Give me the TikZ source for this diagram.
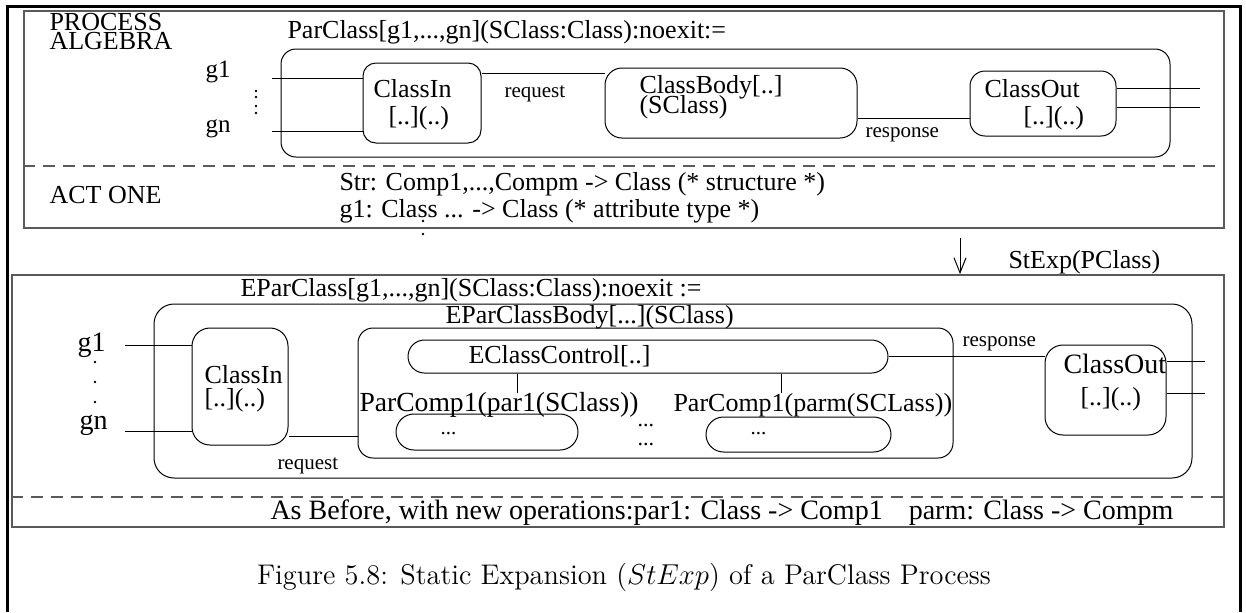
\documentclass[tikz,border=0pt]{standalone}
\usepackage{fontspec}
\usetikzlibrary{arrows.meta, positioning, calc}
\newfontfamily\figfont{Liberation Serif}
\definecolor{framegrey}{HTML}{5A5A5A}

\tikzset{
  lbl/.style={anchor=base west, inner sep=0pt, font=\figfont\fontsize{13}{15}\selectfont},
  sml/.style={lbl, font=\figfont\fontsize{10.5}{12}\selectfont},
  big/.style={lbl, font=\figfont\fontsize{14}{16}\selectfont},
  rbox/.style={draw, inner sep=0pt, line width=0.5pt},
  panel/.style={draw=framegrey, line width=0.9pt, inner sep=0pt},
  cut/.style={framegrey, line width=0.7pt, dash pattern=on 6pt off 4pt},
}

\begin{document}
\begin{tikzpicture}[x=0.5pt, y=-0.5pt, line width=0.5pt]
  \useasboundingbox (0,0) rectangle (1246,612);
  \draw[line width=1.5pt] (7,612) -- (7,6) -- (1240,6) -- (1240,612);

  % upper panel
  \node[panel, minimum width=600pt, minimum height=108.5pt] (upper) at (624,119.5) {};
  \coordinate (cut1) at (0,166);
  \draw[cut] (upper.west |- cut1) -- (upper.east |- cut1);
  \node[lbl] (pa1) at (49,30) {PROCESS};
  \node[lbl] (pa2) at (49,49) {ALGEBRA};
  \node[lbl] (pchead) at (287,38) {ParClass[g1,...,gn](SClass:Class):noexit:=};
  \draw[rounded corners=7.5pt] (281,49) rectangle (1170,157);

  \node[rbox, rounded corners=6.5pt, minimum width=59pt, minimum height=40pt] (cin) at (422,103) {};
  \node[lbl] (cinA) at (373,97) {ClassIn};
  \node[lbl] (cinB) at (388,124) {[..](..)};
  \node[rbox, rounded corners=8.5pt, minimum width=126pt, minimum height=35pt] (cbody) at (731,103) {};
  \node[lbl] (cbodyA) at (639,93) {ClassBody[..]};
  \node[lbl] (cbodyB) at (639,113) {(SClass)};
  \node[rbox, rounded corners=7.5pt, minimum width=73pt, minimum height=32.5pt] (cout) at (1043,103.5) {};
  \node[lbl] (coutA) at (984,97) {ClassOut};
  \node[lbl] (coutB) at (1023,124) {[..](..)};

  \node[lbl, font=\figfont\fontsize{12.5}{14}\selectfont] (ga) at (205,77) {g1};
  \node[lbl, font=\figfont\fontsize{12.5}{14}\selectfont] (gb) at (205,132) {gn};
  \foreach \yy in {91,97,106,113}
    \fill (256,\yy) circle[radius=0.7pt];
  \foreach \yy/\nm in {78/ia,131/ib}{%
    \coordinate (\nm) at (272,\yy);
    \draw (\nm) -- (\nm -| cin.west);}

  \draw ([yshift=15pt]cin.east) coordinate (rq) -- (rq -| cbody.west);
  \node[sml] (rqlab) at (504,97) {request};
  \draw ([yshift=-7.5pt]cbody.east) coordinate (rs) -- (rs -| cout.west);
  \node[sml] (rslab) at (865,137) {response};
  \foreach \yy/\nm in {88/oa,107/ob}{%
    \coordinate (\nm) at (1200,\yy);
    \draw (\nm -| cout.east) -- (\nm);}

  \node[lbl] (act) at (49,203) {ACT ONE};
  \node[lbl] (sig1) at (339,190) {Str: Comp1,...,Compm -> Class (* structure *)};
  \node[lbl] (sig2) at (339,217) {g1: Class ... -> Class (* attribute type *)};
  \foreach \yy in {221,234}
    \fill (423,\yy) circle[radius=0.7pt];

  % lower panel
  \node[panel, minimum width=606pt, minimum height=126pt] (lower) at (618,401) {};
  \coordinate (stx) at (960,238);
  \draw[-{Straight Barb[length=7.5pt,width=6pt]}] (stx) -- (stx |- lower.north);
  \node[lbl] (stexp) at (1008,268) {StExp(PClass)};
  \coordinate (cut2) at (0,497);
  \draw[cut] (lower.west |- cut2) -- (lower.east |- cut2);

  \node[lbl] (ephead) at (240,296) {EParClass[g1,...,gn](SClass:Class):noexit :=};
  \draw[rounded corners=10pt] (154,304) rectangle (1192,478);
  \node[lbl] (ebhead) at (445,323) {EParClassBody[...](SClass)};
  \node[rbox, rounded corners=7.5pt, minimum width=297.5pt, minimum height=65pt] (ebody) at (655.5,393) {};
  \node[rbox, rounded corners=8.25pt, minimum width=240pt, minimum height=16.5pt] (ectrl) at (648,356.5) {};
  \node[lbl] (ectrlA) at (468,363) {EClassControl[..]};
  \foreach \xx/\nm in {517/tka,781/tkb}{%
    \coordinate (\nm) at (\xx,393);
    \draw (\nm |- ectrl.south) -- (\nm);}
  \node[lbl, font=\figfont\fontsize{13.8}{15}\selectfont] (pc1) at (359,411) {ParComp1(par1(SClass))};
  \node[lbl] (pcm) at (673,411) {ParComp1(parm(SCLass))};
  \node[rbox, rounded corners=9pt, minimum width=91pt, minimum height=18pt] (pill1) at (487,432) {};
  \node[rbox, rounded corners=8.75pt, minimum width=92.5pt, minimum height=17.5pt] (pillm) at (798.5,434.5) {};
  \node[sml] (d1) at (440,434) {...};
  \node[sml] (dm) at (750,434) {...};
  \node[lbl, font=\figfont\fontsize{11}{13}\selectfont] (mid1) at (637,426) {...};
  \node[lbl, font=\figfont\fontsize{11}{13}\selectfont] (mid2) at (637,445) {...};

  \node[rbox, rounded corners=9pt, minimum width=48pt, minimum height=58.5pt] (cin2) at (240,386.5) {};
  \node[lbl] (cin2A) at (204,383) {ClassIn};
  \node[lbl] (cin2B) at (204,406) {[..](..)};
  \node[big] (gc) at (77,351) {g1};
  \node[big] (gd) at (79,429) {gn};
  \foreach \yy in {362,382,402}
    \fill (95,\yy) circle[radius=0.7pt];
  \foreach \yy/\nm in {345/ic,431/id}{%
    \coordinate (\nm) at (125,\yy);
    \draw (\nm) -- (\nm -| cin2.west);}
  \draw ([yshift=-24.75pt]cin2.east) coordinate (rq2) -- (rq2 -| ebody.west);
  \node[sml] (rq2lab) at (277,469) {request};

  \node[rbox, rounded corners=9pt, minimum width=60.5pt, minimum height=45pt] (cout2) at (1105.5,390) {};
  \node[big] (cout2A) at (1063,373) {ClassOut};
  \node[lbl] (cout2B) at (1080,405) {[..](..)};
  \draw (ectrl.east) -- (ectrl.east -| cout2.west);
  \node[sml] (rs2lab) at (962,346) {response};
  \foreach \yy/\nm in {361/oc,393/od}{%
    \coordinate (\nm) at (1205,\yy);
    \draw (\nm -| cout2.east) -- (\nm);}

  \node[big] (ops) at (270,519)
    {As Before, with new operations:par1: Class -> Comp1\hspace{13pt}parm: Class -> Compm};

  \node[font=\fontsize{14.2}{16}\selectfont] (caption) at (624,577)
    {Figure 5.8: Static Expansion ($StExp$) of a ParClass Process};
\end{tikzpicture}
\end{document}
